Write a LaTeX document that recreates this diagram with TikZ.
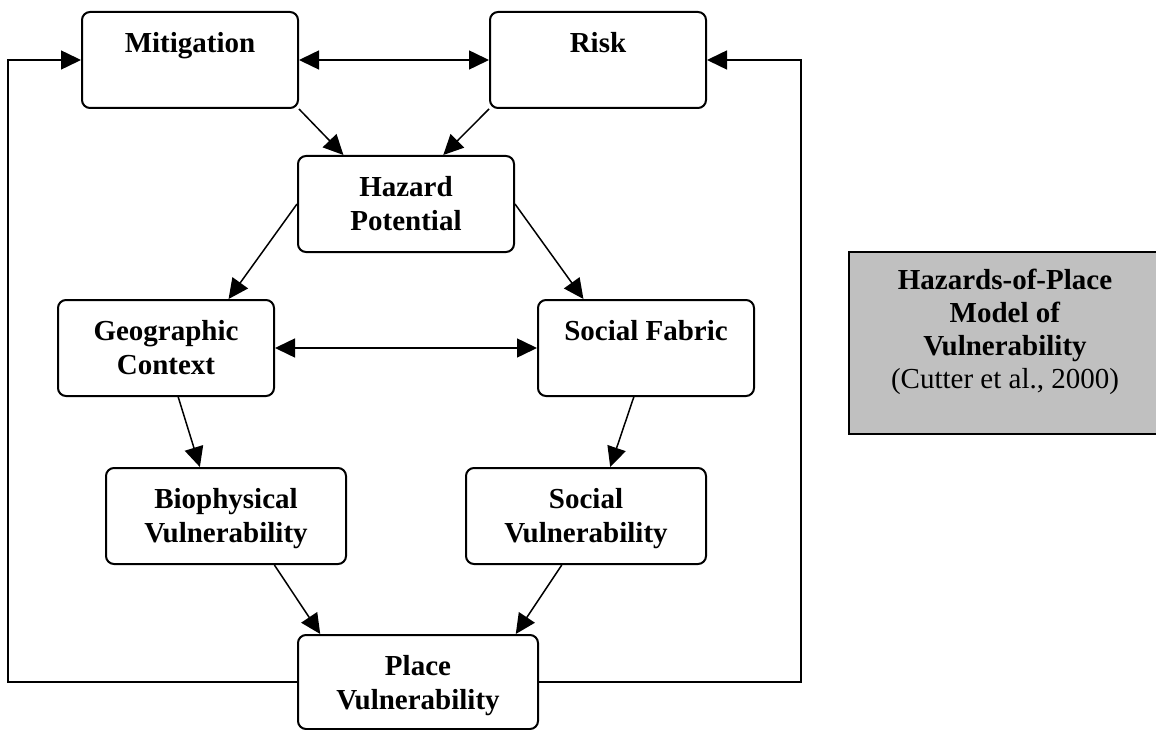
\documentclass[tikz,border=0pt]{standalone}
\usepackage{fontspec}
\setmainfont{Liberation Serif}
\usetikzlibrary{arrows.meta,calc}
\definecolor{lgray}{HTML}{C0C0C0}
\tikzset{
  box/.style={draw, line width=2pt, rounded corners=8pt, inner sep=0pt, anchor=north west, minimum height=96pt},
  lbl/.style={anchor=north, inner sep=0pt, align=center, font=\fontsize{29}{34}\selectfont\bfseries},
  conn/.style={line width=1.5pt, -{Triangle[length=20pt,width=19pt]}},
  conn2/.style={line width=1.5pt, {Triangle[length=20pt,width=19pt]}-{Triangle[length=20pt,width=19pt]}},
  legbox/.style={draw, line width=2pt, fill=lgray, anchor=north west, inner sep=0pt},
}
\begin{document}
\begin{tikzpicture}[x=1pt, y=-1pt]
\useasboundingbox (0,0) rectangle (1156,730);
% boxes
\node[box, minimum width=216pt] (mit) at (81,11) {};
\node[box, minimum width=216pt] (risk) at (489,11) {};
\node[box, minimum width=216pt] (haz) at (297,155) {};
\node[box, minimum width=216pt] (geo) at (57,299) {};
\node[box, minimum width=216pt] (sf) at (537,299) {};
\node[box, minimum width=240pt] (bio) at (105,467) {};
\node[box, minimum width=240pt] (sv) at (465,467) {};
\node[box, minimum width=240pt, minimum height=94pt] (place) at (297,634) {};
% labels
\node[lbl] (mitT) at ($(mit.north)+(0,20)$) {\rule{0pt}{21pt}Mitigation};
\node[lbl] (riskT) at ($(risk.north)+(0,20)$) {\rule{0pt}{21pt}Risk};
\node[lbl] (hazT) at ($(haz.north)+(0,20)$) {\rule{0pt}{21pt}Hazard\\Potential};
\node[lbl] (geoT) at ($(geo.north)+(0,20)$) {\rule{0pt}{21pt}Geographic\\Context};
\node[lbl] (sfT) at ($(sf.north)+(0,20)$) {\rule{0pt}{21pt}Social Fabric};
\node[lbl] (bioT) at ($(bio.north)+(0,20)$) {\rule{0pt}{21pt}Biophysical\\Vulnerability};
\node[lbl] (svT) at ($(sv.north)+(0,20)$) {\rule{0pt}{21pt}Social\\Vulnerability};
\node[lbl] (placeT) at ($(place.north)+(0,20)$) {\rule{0pt}{21pt}Place\\Vulnerability};
% legend
\node[legbox, minimum width=314pt, minimum height=182pt] (leg) at (848,251) {};
\node[anchor=north, inner sep=0pt, align=center, font=\fontsize{29}{33}\selectfont] (legT) at (1005,268)
  {\rule{0pt}{21pt}\textbf{Hazards-of-Place}\\\textbf{Model of}\\\textbf{Vulnerability}\\(Cutter et al., 2000)};
% connectors
\draw[conn2] (mit.east) -- (risk.west);
\draw[conn] (mit.south east) -- ($(haz.north west)!0.213!(haz.north east)$);
\draw[conn] (risk.south west) -- ($(haz.north west)!0.671!(haz.north east)$);
\draw[conn] (haz.west) -- ($(geo.north west)!0.787!(geo.north east)$);
\draw[conn] (haz.east) -- ($(sf.north west)!0.213!(sf.north east)$);
\draw[conn2] (geo.east) -- (sf.west);
\draw[conn] ($(geo.south west)!0.556!(geo.south east)$) -- ($(bio.north west)!0.392!(bio.north east)$);
\draw[conn] ($(sf.south west)!0.444!(sf.south east)$) -- ($(sv.north west)!0.6!(sv.north east)$);
\draw[conn] ($(bio.south west)!0.7!(bio.south east)$) -- ($(place.north west)!0.096!(place.north east)$);
\draw[conn] ($(sv.south west)!0.4!(sv.south east)$) -- ($(place.north west)!0.904!(place.north east)$);
% feedback loops
\coordinate (lx) at (8,0);
\coordinate (rx) at (801,0);
\draw[conn] (place.west) -- (place.west -| lx) -- (lx |- mit.west) -- (mit.west);
\draw[conn] (place.east) -- (place.east -| rx) -- (rx |- risk.east) -- (risk.east);
\end{tikzpicture}
\end{document}
